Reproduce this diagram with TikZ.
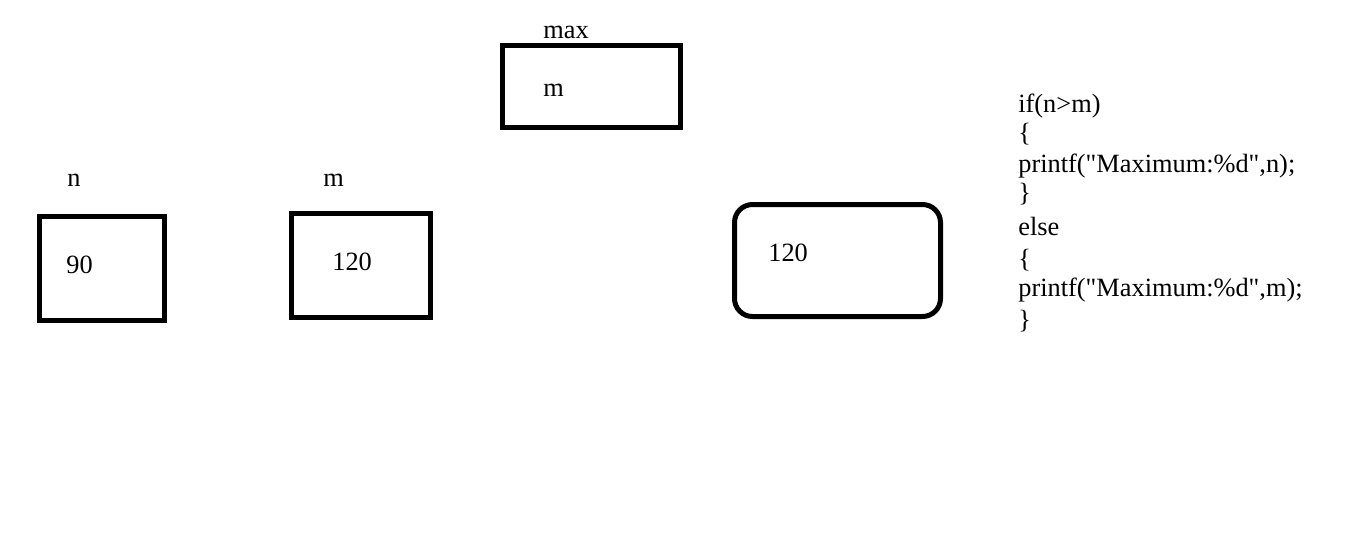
\documentclass[tikz,border=0pt]{standalone}
\usepackage{fontspec}
\setmainfont{Liberation Serif}

\begin{document}
\begin{tikzpicture}[x=0.02cm,y=-0.02cm,
  cell/.style={line width=0.1cm},
  txt/.style={anchor=base west,inner sep=0pt,font=\fontsize{15pt}{17pt}\selectfont}]
\useasboundingbox (0,0) rectangle (1345,535);
% variables
\draw[cell] (502.5,45.5) rectangle (680.5,127.5);
\node[txt] (maxname) at (543,38) {max};
\node[txt] (maxval) at (543,96) {m};
\draw[cell] (39.5,216.5) rectangle (164.5,320.5);
\node[txt] (nname) at (67,186) {n};
\node[txt] (nval) at (66,273) {90};
\draw[cell] (291.5,213.5) rectangle (430.5,317.5);
\node[txt] (mname) at (323,186) {m};
\node[txt] (mval) at (332,270) {120};
% result
\draw[cell,rounded corners=0.36cm] (734.5,204.5) rectangle (940.5,316.5);
\node[txt] (result) at (768,261) {120};
% code
\node[txt] (code1) at (1018,112) {if(n>m)};
\node[txt] (code2) at (1018,141) {\{};
\node[txt] (code3) at (1018,172) {printf(\textquotedbl Maximum:\%d\textquotedbl,n);};
\node[txt] (code4) at (1018,201) {\}};
\node[txt] (code5) at (1018,235) {else};
\node[txt] (code6) at (1018,267) {\{};
\node[txt] (code7) at (1018,296) {printf(\textquotedbl Maximum:\%d\textquotedbl,m);};
\node[txt] (code8) at (1018,328) {\}};
\end{tikzpicture}
\end{document}
